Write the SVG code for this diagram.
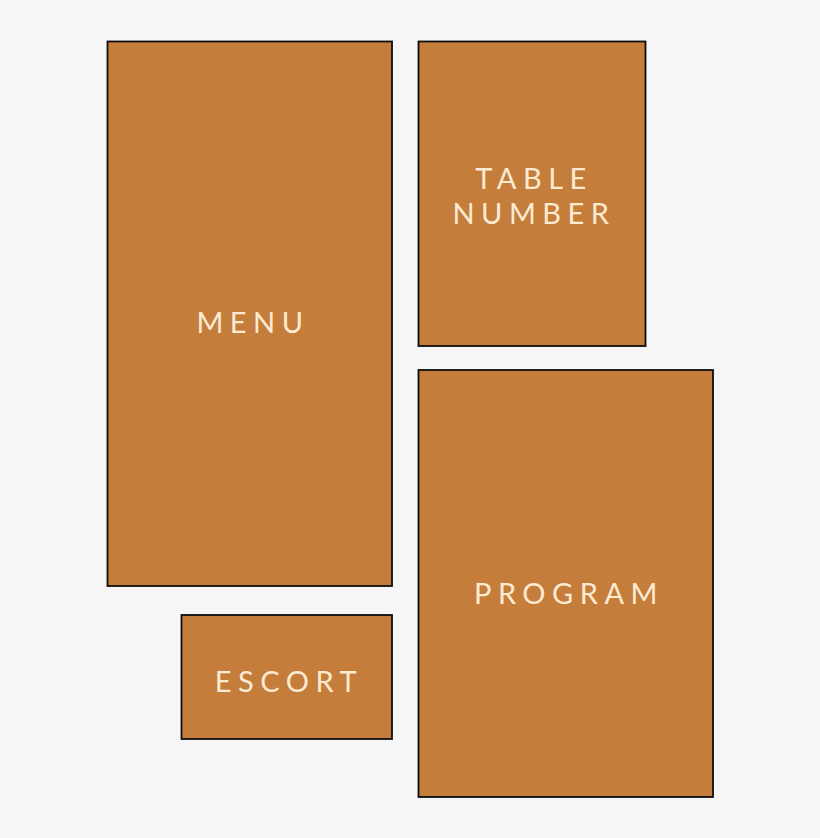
<svg xmlns="http://www.w3.org/2000/svg" width="820" height="838" viewBox="0 0 820 838">
<style>
.card{fill:#C57D3C;stroke:#0d0d0d;stroke-width:1.8}
.lbl{fill:#FCEBD2;font-family:Lato,"Liberation Sans",sans-serif;font-weight:400;font-size:29px;letter-spacing:6.5px;text-anchor:middle}
</style>
<rect width="820" height="838" fill="#F6F6F6"/>
<g id="menu">
<rect class="card" x="107.5" y="41.5" width="284.5" height="544.5"/>
<text class="lbl" x="253" y="333">MENU</text>
</g>
<g id="table-number">
<rect class="card" x="418.5" y="41.5" width="227" height="304.5"/>
<text class="lbl" x="534" y="189">TABLE</text>
<text class="lbl" x="534" y="224">NUMBER</text>
</g>
<g id="program">
<rect class="card" x="418.5" y="370" width="294.5" height="427"/>
<text class="lbl" x="569" y="604">PROGRAM</text>
</g>
<g id="escort">
<rect class="card" x="181.5" y="615" width="210.5" height="124"/>
<text class="lbl" x="289" y="692">ESCORT</text>
</g>
<g id="connectors"/>
</svg>
